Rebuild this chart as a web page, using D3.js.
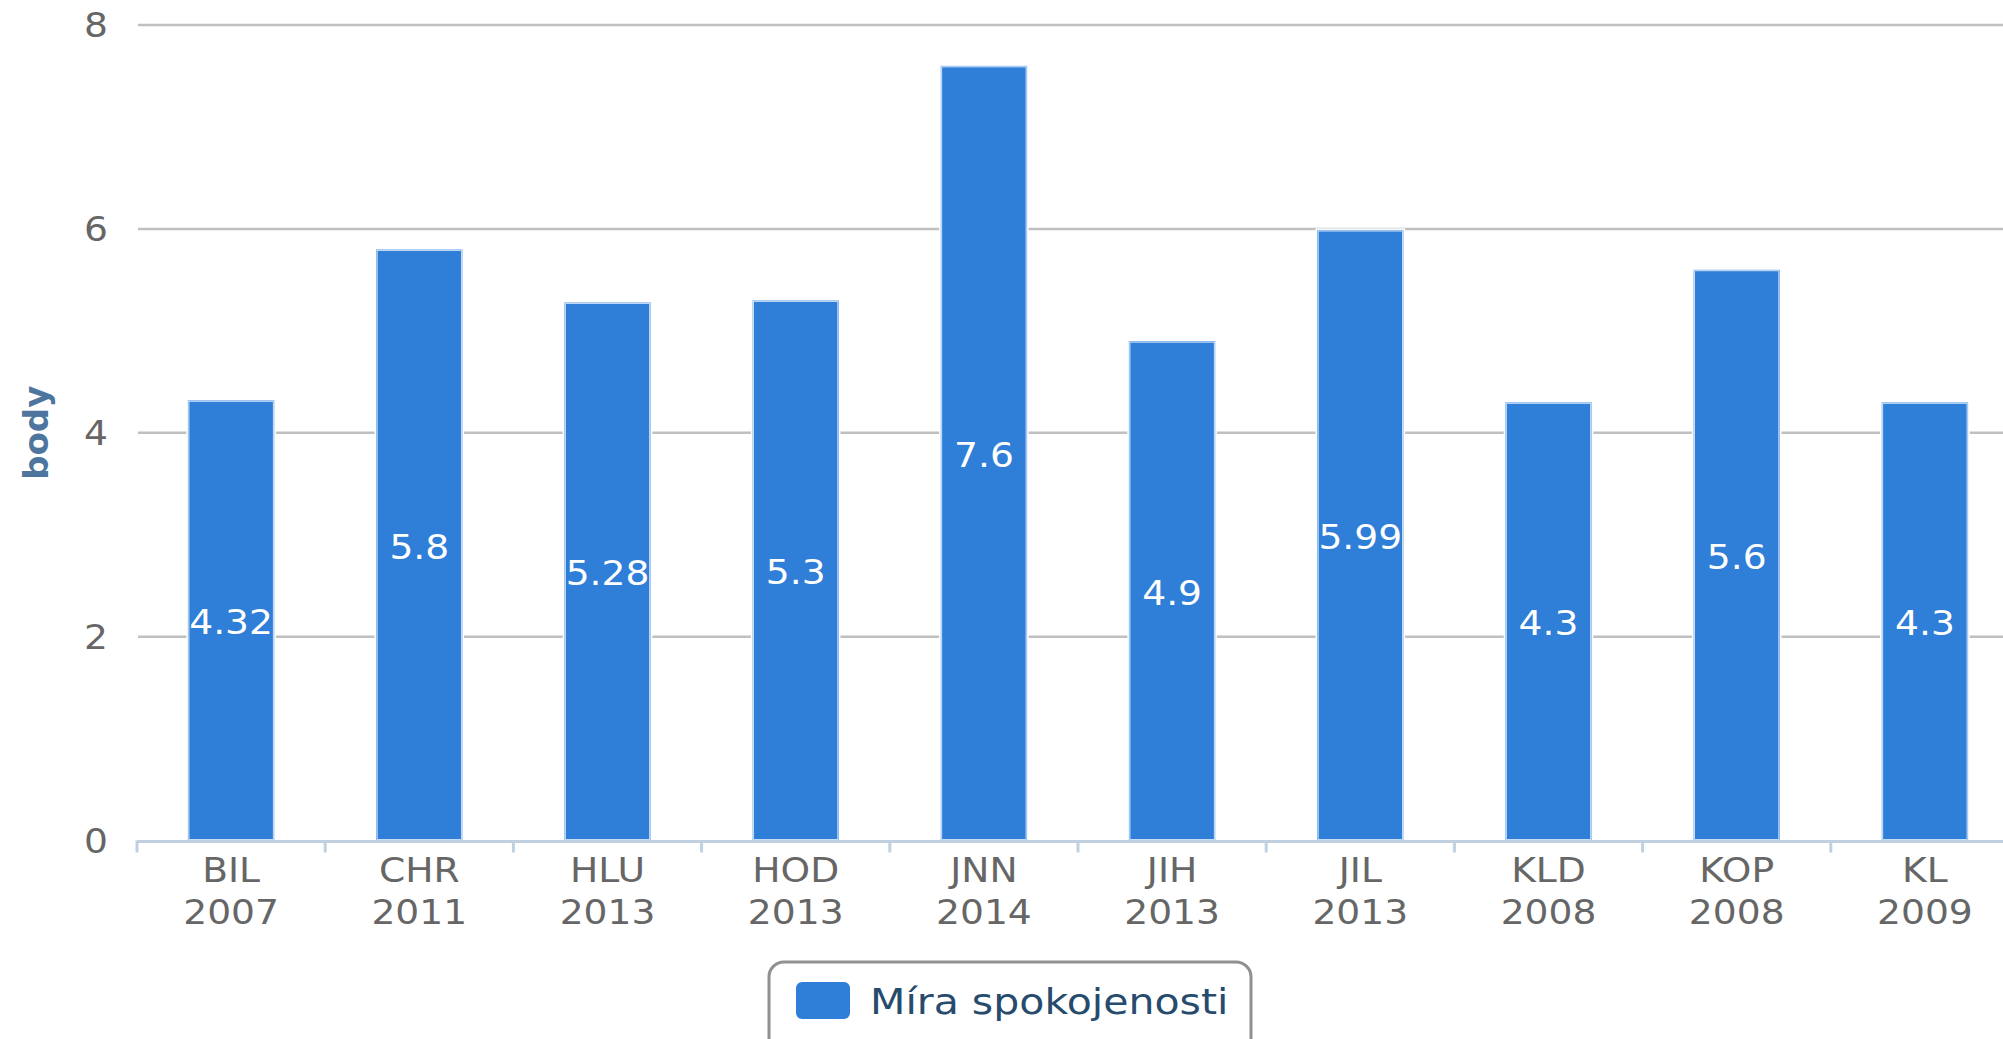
<!DOCTYPE html>
<meta charset="utf-8">
<style>
body { margin: 0; background: #fff; overflow: hidden; }
svg { display: block; font-family: "DejaVu Sans", sans-serif; }
.grid line { stroke: #c0c0c0; stroke-width: 2.5; }
.tick-lbl { fill: #666; font-size: 33px; }
</style>
<svg width="2003" height="1039"></svg>
<script src="https://cdn.jsdelivr.net/npm/d3@7/dist/d3.min.js"></script>
<script>

// data
var codes = ["BIL", "CHR", "HLU", "HOD", "JNN", "JIH", "JIL", "KLD", "KOP", "KL"];
var years = ["2007", "2011", "2013", "2013", "2014", "2013", "2013", "2008", "2008", "2009"];
var scores = [4.32, 5.8, 5.28, 5.3, 7.6, 4.9, 5.99, 4.3, 5.6, 4.3];
var yTicks = [0, 2, 4, 6, 8];
var seriesName = "Míra spokojenosti";
var yTitle = "body";

var svg = d3.select("svg"),
    width = +svg.attr("width"),
    height = +svg.attr("height");

var left = 137, step = 188.2;   // plot runs off the right edge, as in the original
var sx = 1.14;                  // the screenshot's text is a bit wider than plain DejaVu

function at(px, py) { return "translate(" + px + "," + py + ") scale(" + sx + ",1)"; }

var x = d3.scaleBand()
    .domain(d3.range(codes.length))
    .range([left, left + step * codes.length])
    .paddingInner(0.54)
    .paddingOuter(0.27);

var y = d3.scaleLinear()
    .domain([0, 8])
    .range([840.5, 25]);

// gridlines
svg.append("g").attr("class", "grid")
  .selectAll("line")
  .data(yTicks.filter(function(d) { return d > 0; }))
  .enter().append("line")
    .attr("x1", 138).attr("x2", width)
    .attr("y1", function(d) { return y(d); })
    .attr("y2", function(d) { return y(d); });

// y labels
svg.append("g")
  .selectAll("text")
  .data(yTicks)
  .enter().append("text")
    .attr("class", "tick-lbl")
    .attr("transform", function(d) { return at(108, y(d) + 12); })
    .attr("text-anchor", "end")
    .text(function(d) { return d; });

svg.append("text")
    .attr("transform", "translate(48," + y(4) + ") rotate(-90)")
    .attr("text-anchor", "middle")
    .attr("fill", "#4d759e")
    .attr("font-weight", "bold")
    .attr("font-size", 34)
    .text(yTitle);

// bars
svg.append("g")
  .selectAll("rect")
  .data(scores)
  .enter().append("rect")
    .attr("x", function(d, i) { return x(i); })
    .attr("width", x.bandwidth())
    .attr("y", function(d) { return y(d); })
    .attr("height", function(d) { return y(0) - y(d); })
    .attr("fill", "#2f7ed8")
    .attr("stroke", "#fff")
    .attr("stroke-width", 3);

svg.append("g")
  .selectAll("rect")
  .data(scores)
  .enter().append("rect")
    .attr("x", function(d, i) { return x(i) + 0.5; })
    .attr("width", x.bandwidth() - 1)
    .attr("y", function(d) { return y(d) + 0.5; })
    .attr("height", function(d) { return y(0) - y(d) - 1; })
    .attr("fill", "none")
    .attr("stroke", "#8fbcef")
    .attr("stroke-width", 1);

// value labels, centred in the bar
svg.append("g")
  .selectAll("text")
  .data(scores)
  .enter().append("text")
    .attr("transform", function(d, i) {
      return at(x(i) + x.bandwidth() / 2, (y(d) + y(0)) / 2 + 14);
    })
    .attr("text-anchor", "middle")
    .attr("fill", "#fff")
    .attr("font-size", 33)
    .text(function(d) { return d; });

// x axis
var axis = svg.append("g");
axis.append("line")
    .attr("x1", left).attr("x2", width)
    .attr("y1", y(0) + 1).attr("y2", y(0) + 1)
    .attr("stroke", "#c0d0e0").attr("stroke-width", 3);

axis.selectAll(".tk")
  .data(d3.range(codes.length))
  .enter().append("line")
    .attr("x1", function(d) { return left + step * d; })
    .attr("x2", function(d) { return left + step * d; })
    .attr("y1", y(0)).attr("y2", y(0) + 12)
    .attr("stroke", "#c0d0e0").attr("stroke-width", 3);

var lbl = axis.selectAll(".xl")
  .data(codes)
  .enter().append("text")
    .attr("class", "tick-lbl")
    .attr("text-anchor", "middle")
    .attr("transform", function(d, i) { return at(x(i) + x.bandwidth() / 2, 882); });
lbl.append("tspan")
    .attr("x", 0)
    .text(function(d) { return d; });
lbl.append("tspan")
    .attr("x", 0)
    .attr("dy", 42)
    .text(function(d, i) { return years[i]; });

// legend
var lg = svg.append("g");
lg.append("rect")
    .attr("x", 769).attr("y", 962)
    .attr("width", 482).attr("height", 100)
    .attr("rx", 15)
    .attr("fill", "#fff")
    .attr("stroke", "#909090")
    .attr("stroke-width", 3);
lg.append("rect")
    .attr("x", 796).attr("y", 982)
    .attr("width", 54).attr("height", 37)
    .attr("rx", 6)
    .attr("fill", "#2f7ed8");
lg.append("text")
    .attr("transform", at(870, 1014))
    .attr("fill", "#274b6d")
    .attr("font-size", 36)
    .text(seriesName);

</script>
